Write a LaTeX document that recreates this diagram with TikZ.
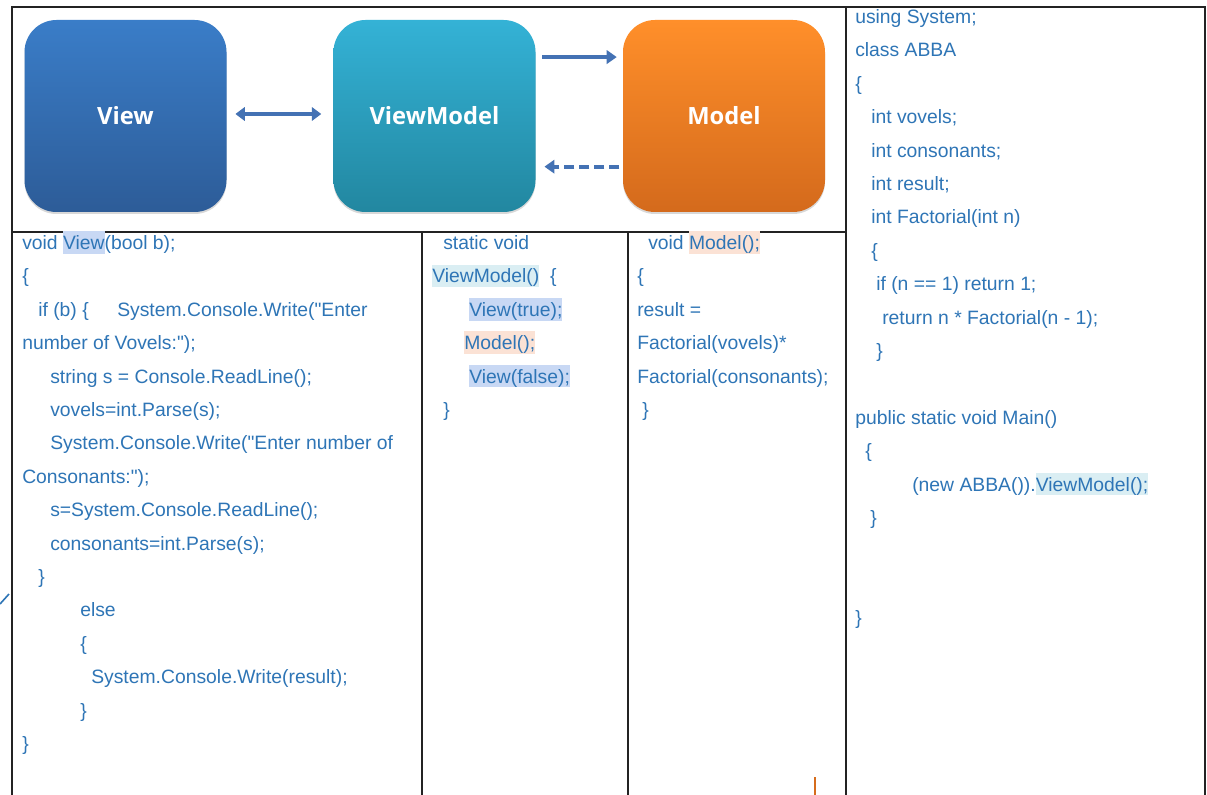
\documentclass[tikz,border=0pt]{standalone}
\usepackage{fontspec}
\setmainfont{Liberation Sans}[Ligatures=TeXOff]
\newfontfamily\labelfont{Open Sans}
\usetikzlibrary{arrows.meta,shadows}
\definecolor{codeblue}{RGB}{46,117,182}
\definecolor{arrowblue}{RGB}{68,114,180}
\definecolor{gridc}{RGB}{35,35,35}
\definecolor{hlblue}{RGB}{200,216,244}
\definecolor{hlcyan}{RGB}{218,238,243}
\definecolor{hlpeach}{RGB}{251,226,213}
\definecolor{vtop}{RGB}{58,125,200}
\definecolor{vbot}{RGB}{45,92,152}
\definecolor{vmtop}{RGB}{52,178,214}
\definecolor{vmbot}{RGB}{34,135,160}
\definecolor{mtop}{RGB}{255,143,42}
\definecolor{mbot}{RGB}{212,106,28}
\setlength{\fboxsep}{0pt}
\newcommand\hlw[2]{\colorbox{#1}{\rule[-0.22em]{0pt}{1.17em}#2}}
\tikzset{
  code/.style={anchor=base west, inner sep=0pt, text=codeblue, font=\fontsize{14.5pt}{17pt}\selectfont},
  mvbox/.style={rounded corners=24pt, minimum width=151.5pt, minimum height=144pt, inner sep=0pt,
    text=white, font=\labelfont\bfseries\fontsize{17.8pt}{20pt}\selectfont,
    drop shadow={shadow xshift=0pt, shadow yshift=-1.5pt, opacity=0.25, fill=black!60}},
  grid/.style={draw=gridc, line width=1.4pt},
  conn/.style={draw=arrowblue, line width=2.9pt},
  tip/.style={arrows={-{Triangle[length=7.5pt,width=10pt]}}}
}
\begin{document}
\begin{tikzpicture}[x=0.75pt,y=-0.75pt]
\useasboundingbox (0,0) rectangle (1207,795);
\fill[white] (0,0) rectangle (1207,795);

% frame and grid
\draw[grid] (12,795) -- (12,7) -- (1205,7) -- (1205,795);
\draw[grid] (846,7) -- (846,795);
\draw[grid] (12,232) -- (846,232);
\draw[grid] (422,232) -- (422,795);
\draw[grid] (628,232) -- (628,795);

% boxes
\node[mvbox, shade, top color=vtop, bottom color=vbot] (view) at (125.5,116) {View};
\node[mvbox, shade, top color=vmtop, bottom color=vmbot] (vm) at (434.5,116) {ViewModel};
\node[mvbox, shade, top color=mtop, bottom color=mbot] (model) at (724,116) {Model};

% connectors
\draw[conn, arrows={{Triangle[length=7pt,width=10pt]}-{Triangle[length=7pt,width=10pt]}}, shorten <=6.5pt, shorten >=9pt] ([yshift=1.5pt]view.east) -- ([yshift=1.5pt]vm.west);
\draw[conn, tip, shorten <=5pt, shorten >=4.5pt] ([yshift=44.2pt]vm.east) -- ([yshift=44.2pt]model.west);
\draw[conn, tip, dash pattern=on 7.5pt off 3.75pt, shorten <=2.5pt, shorten >=6.5pt] ([yshift=-38pt]model.west) -- ([yshift=-38pt]vm.east);

% column 1
\node[code] (a1) at (22,249.5) {void \hlw{hlblue}{View}(bool b);};
\node[code] (a2) at (22,282.9) {\{};
\node[code] (a3) at (38,316.3) {if (b) \{};
\node[code] (a3b) at (117,316.3) {System.Console.Write("Enter};
\node[code] (a4) at (22,349.7) {number of Vovels:");};
\node[code] (a5) at (50,383.1) {string s = Console.ReadLine();};
\node[code] (a6) at (50,416.5) {vovels=int.Parse(s);};
\node[code] (a7) at (50,449.9) {System.Console.Write("Enter number of};
\node[code] (a8) at (22,483.3) {Consonants:");};
\node[code] (a9) at (50,516.7) {s=System.Console.ReadLine();};
\node[code] (a10) at (50,550.1) {consonants=int.Parse(s);};
\node[code] (a11) at (38,583.5) {\}};
\node[code] (a12) at (80,616.9) {else};
\node[code] (a13) at (80,650.3) {\{};
\node[code] (a14) at (91,683.7) {System.Console.Write(result);};
\node[code] (a15) at (80,717.1) {\}};
\node[code] (a16) at (22,750.5) {\}};

% column 2
\node[code] (b1) at (443,249.5) {static void};
\node[code] (b2) at (432,282.9) {\hlw{hlcyan}{ViewModel()}\ \ \{};
\node[code] (b3) at (469,316.3) {\hlw{hlblue}{View(true);}};
\node[code] (b4) at (464,349.7) {\hlw{hlpeach}{Model();}};
\node[code] (b5) at (469,383.1) {\hlw{hlblue}{View(false);}};
\node[code] (b6) at (443,416.5) {\}};

% column 3
\node[code] (c1) at (648,249.5) {void \hlw{hlpeach}{Model();}};
\node[code] (c2) at (637,282.9) {\{};
\node[code] (c3) at (637,316.3) {result =};
\node[code] (c4) at (637,349.7) {Factorial(vovels)*};
\node[code] (c5) at (637,383.1) {Factorial(consonants);};
\node[code] (c6) at (642,416.5) {\}};

% column 4
\node[code] (d1) at (855,23.5) {using System;};
\node[code] (d2) at (855,56.9) {class ABBA};
\node[code] (d3) at (855,90.3) {\{};
\node[code] (d4) at (871,123.7) {int vovels;};
\node[code] (d5) at (871,157.1) {int consonants;};
\node[code] (d6) at (871,190.5) {int result;};
\node[code] (d7) at (871,223.9) {int Factorial(int n)};
\node[code] (d8) at (871,257.3) {\{};
\node[code] (d9) at (876,290.7) {if (n == 1) return 1;};
\node[code] (d10) at (882,324.1) {return n * Factorial(n - 1);};
\node[code] (d11) at (876,357.5) {\}};
\node[code] (d12) at (855,424.3) {public static void Main()};
\node[code] (d13) at (865,457.7) {\{};
\node[code] (d14) at (912,491.1) {(new ABBA()).\hlw{hlcyan}{ViewModel();}};
\node[code] (d15) at (870,524.5) {\}};
\node[code] (d16) at (855,624.7) {\}};

% stray marks
\draw[draw=codeblue, line width=1.2pt] (0,604) -- (9,594);
\draw[draw={rgb,255:red,214;green,108;blue,28}, line width=1.5pt] (815,777) -- (815,795);
\end{tikzpicture}
\end{document}
